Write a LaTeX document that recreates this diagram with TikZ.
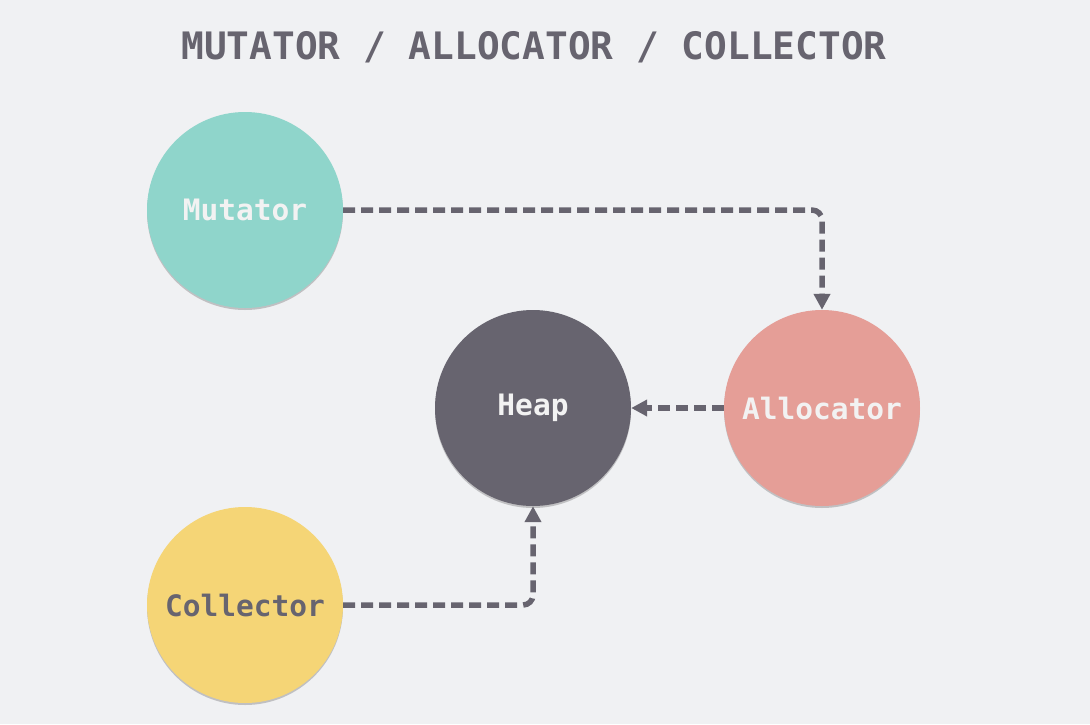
\documentclass[tikz,border=0pt]{standalone}
\usepackage{fontspec}
\setmonofont{DejaVu Sans Mono}
\usetikzlibrary{arrows.meta,shadows}
\definecolor{bg}{HTML}{F0F1F3}
\definecolor{ink}{HTML}{67646F}
\definecolor{mut}{HTML}{8FD5CB}
\definecolor{alc}{HTML}{E59E97}
\definecolor{col}{HTML}{F5D576}
\definecolor{hp}{HTML}{67646F}
\definecolor{lighttext}{HTML}{F2F2F2}
\begin{document}
\begin{tikzpicture}[x=1pt,y=-1pt,
  ball/.style={circle,minimum size=196pt,inner sep=0pt,
    font=\ttfamily\bfseries\fontsize{29.5}{29.5}\selectfont,
    drop shadow={shadow xshift=0pt,shadow yshift=-2pt,opacity=0.2,fill=black}},
  flow/.style={draw=ink,line width=5.5pt,dash pattern=on 12pt off 6pt,rounded corners=10pt,
    -{Triangle[length=16pt,width=16pt]}}]
\path[fill=bg] (0,0) rectangle (1090,724);
\useasboundingbox (0,0) rectangle (1090,724);
\node[text=ink,font=\ttfamily\bfseries\fontsize{37.8}{37.8}\selectfont] (title) at (534,47) {MUTATOR / ALLOCATOR / COLLECTOR};
\node[ball,fill=mut,text=lighttext] (mutator) at (245,210) {Mutator};
\node[ball,fill=hp,text=lighttext] (heap) at (533,408) {Heap};
\node[ball,fill=alc,text=lighttext] (alloc) at (822,408) {Allocator};
\node[ball,fill=col,text=ink] (collector) at (245,605) {Collector};
\draw[flow] (mutator.east) -| (alloc.north);
\draw[flow] (alloc.west) -- (heap.east);
\draw[flow] (collector.east) -| (heap.south);
\end{tikzpicture}
\end{document}
